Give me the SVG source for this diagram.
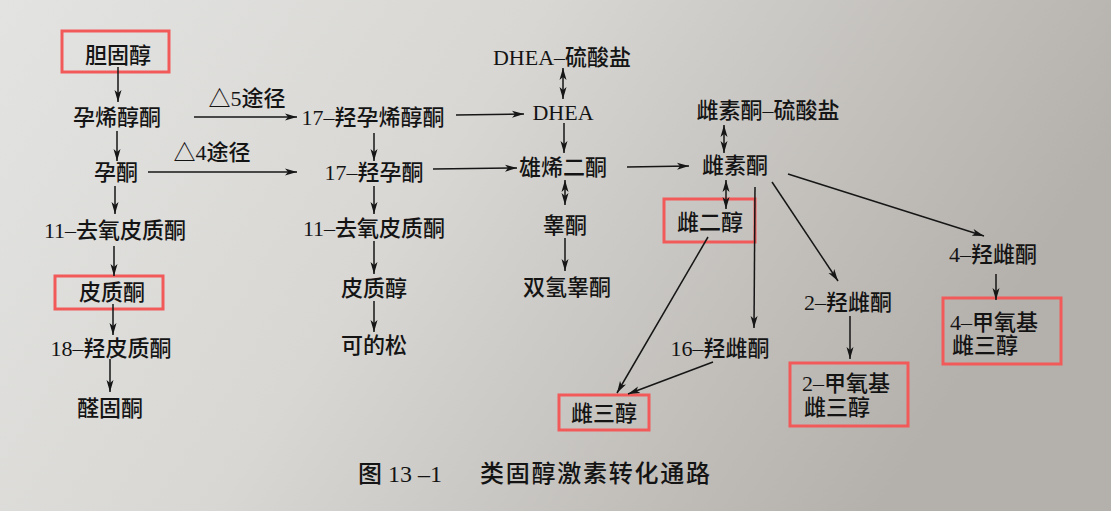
<svg xmlns="http://www.w3.org/2000/svg" width="1111" height="511" viewBox="0 0 1111 511">
<defs>
<linearGradient id="paper" x1="0" y1="0" x2="1" y2="0.3">
<stop offset="0" stop-color="#e3e3e1"/>
<stop offset="0.45" stop-color="#d8d7d4"/>
<stop offset="1" stop-color="#b4b0ab"/>
</linearGradient>
<marker id="ah" viewBox="0 0 12 8" refX="12" refY="4" markerWidth="12" markerHeight="8" markerUnits="userSpaceOnUse" orient="auto">
<path d="M0,0.5 L12,4 L0,7.5 L3,4 z" fill="#161616"/>
</marker>
<marker id="at" viewBox="0 0 12 8" refX="12" refY="4" markerWidth="12" markerHeight="8" markerUnits="userSpaceOnUse" orient="auto-start-reverse">
<path d="M0,0.5 L12,4 L0,7.5 L3,4 z" fill="#161616"/>
</marker>
</defs>
<style>
text{font-family:"Liberation Serif","Noto Sans CJK SC",serif;font-size:22px;font-weight:500;fill:#141414;text-anchor:middle}
.l{text-anchor:start}
.box{fill:none;stroke:#f25a5a;stroke-width:3}
.c line{stroke:#161616;stroke-width:1.5;marker-end:url(#ah)}
.c line.d{marker-start:url(#at)}
</style>
<rect x="0" y="0" width="1111" height="511" fill="url(#paper)"/>

<g id="n-cholesterol"><rect class="box" x="62" y="31" width="107" height="41"/><text x="118" y="63">胆固醇</text></g>
<g id="n-pregnenolone"><text x="117" y="125">孕烯醇酮</text></g>
<g id="lbl-d5"><text x="247" y="106">△5途径</text></g>
<g id="lbl-d4"><text x="212" y="160">△4途径</text></g>
<g id="n-17oh-preg"><text x="373" y="125">17–羟孕烯醇酮</text></g>
<g id="n-progesterone"><text x="116" y="180">孕酮</text></g>
<g id="n-17oh-prog"><text x="374" y="180">17–羟孕酮</text></g>
<g id="n-doc-l"><text x="115" y="238">11–去氧皮质酮</text></g>
<g id="n-doc-m"><text x="374" y="236">11–去氧皮质酮</text></g>
<g id="n-corticosterone"><rect class="box" x="55" y="276" width="108" height="33"/><text x="112" y="300">皮质酮</text></g>
<g id="n-18oh"><text x="111" y="356">18–羟皮质酮</text></g>
<g id="n-aldosterone"><text x="110" y="416">醛固酮</text></g>
<g id="n-cortisol"><text x="374" y="296">皮质醇</text></g>
<g id="n-cortisone"><text x="374" y="353">可的松</text></g>
<g id="n-dheas"><text x="562" y="65">DHEA–硫酸盐</text></g>
<g id="n-dhea"><text x="563" y="120">DHEA</text></g>
<g id="n-androstenedione"><text x="563" y="175">雄烯二酮</text></g>
<g id="n-testosterone"><text x="565" y="233">睾酮</text></g>
<g id="n-dht"><text x="567" y="295">双氢睾酮</text></g>
<g id="n-e1s"><text x="768" y="118">雌素酮–硫酸盐</text></g>
<g id="n-estrone"><text x="735" y="173">雌素酮</text></g>
<g id="n-estradiol"><rect class="box" x="664" y="199" width="91" height="43"/><text x="710" y="230">雌二醇</text></g>
<g id="n-16oh"><text x="720" y="356">16–羟雌酮</text></g>
<g id="n-estriol"><rect class="box" x="559" y="395" width="90" height="35"/><text x="604" y="421">雌三醇</text></g>
<g id="n-2oh"><text x="848" y="310">2–羟雌酮</text></g>
<g id="n-2me"><rect class="box" x="790" y="363" width="118" height="63"/><text class="l" x="802" y="391">2–甲氧基</text><text class="l" x="804" y="415">雌三醇</text></g>
<g id="n-4oh"><text x="993" y="262">4–羟雌酮</text></g>
<g id="n-4me"><rect class="box" x="943" y="298" width="118" height="66"/><text class="l" x="950" y="330">4–甲氧基</text><text class="l" x="952" y="353">雌三醇</text></g>

<g id="connectors" class="c">
<line x1="118" y1="67" x2="118" y2="102"/>
<line x1="117" y1="131" x2="117" y2="161"/>
<line x1="115" y1="186" x2="115" y2="214"/>
<line x1="114" y1="246" x2="114" y2="276"/>
<line x1="113" y1="304" x2="113" y2="335"/>
<line x1="110" y1="359" x2="110" y2="392"/>
<line x1="194" y1="117" x2="297" y2="117"/>
<line x1="148" y1="172" x2="297" y2="172"/>
<line x1="456" y1="115" x2="524" y2="114"/>
<line x1="433" y1="169" x2="517" y2="168"/>
<line x1="374" y1="133" x2="374" y2="161"/>
<line x1="374" y1="186" x2="374" y2="214"/>
<line x1="374" y1="241" x2="374" y2="274"/>
<line x1="374" y1="301" x2="374" y2="332"/>
<line class="d" x1="563" y1="68" x2="563" y2="99"/>
<line x1="564" y1="123" x2="564" y2="153"/>
<line class="d" x1="565" y1="180" x2="565" y2="205"/>
<line x1="565" y1="238" x2="565" y2="271"/>
<line x1="627" y1="167" x2="689" y2="166"/>
<line class="d" x1="724" y1="125" x2="724" y2="153"/>
<line class="d" x1="726" y1="180" x2="726" y2="209"/>
<line x1="755" y1="187" x2="754" y2="328"/>
<line x1="708" y1="237" x2="617" y2="393"/>
<line x1="713" y1="362" x2="628" y2="394"/>
<line x1="772" y1="182" x2="838" y2="281"/>
<line x1="850" y1="316" x2="850" y2="359"/>
<line x1="788" y1="174" x2="984" y2="236"/>
<line x1="996" y1="274" x2="996" y2="300"/>
</g>

<g id="caption"><text class="l" x="358" y="482" style="font-size:24px">图 13 –1</text><text class="l" x="480" y="482" style="font-size:24px" textLength="230">类固醇激素转化通路</text></g>
</svg>
